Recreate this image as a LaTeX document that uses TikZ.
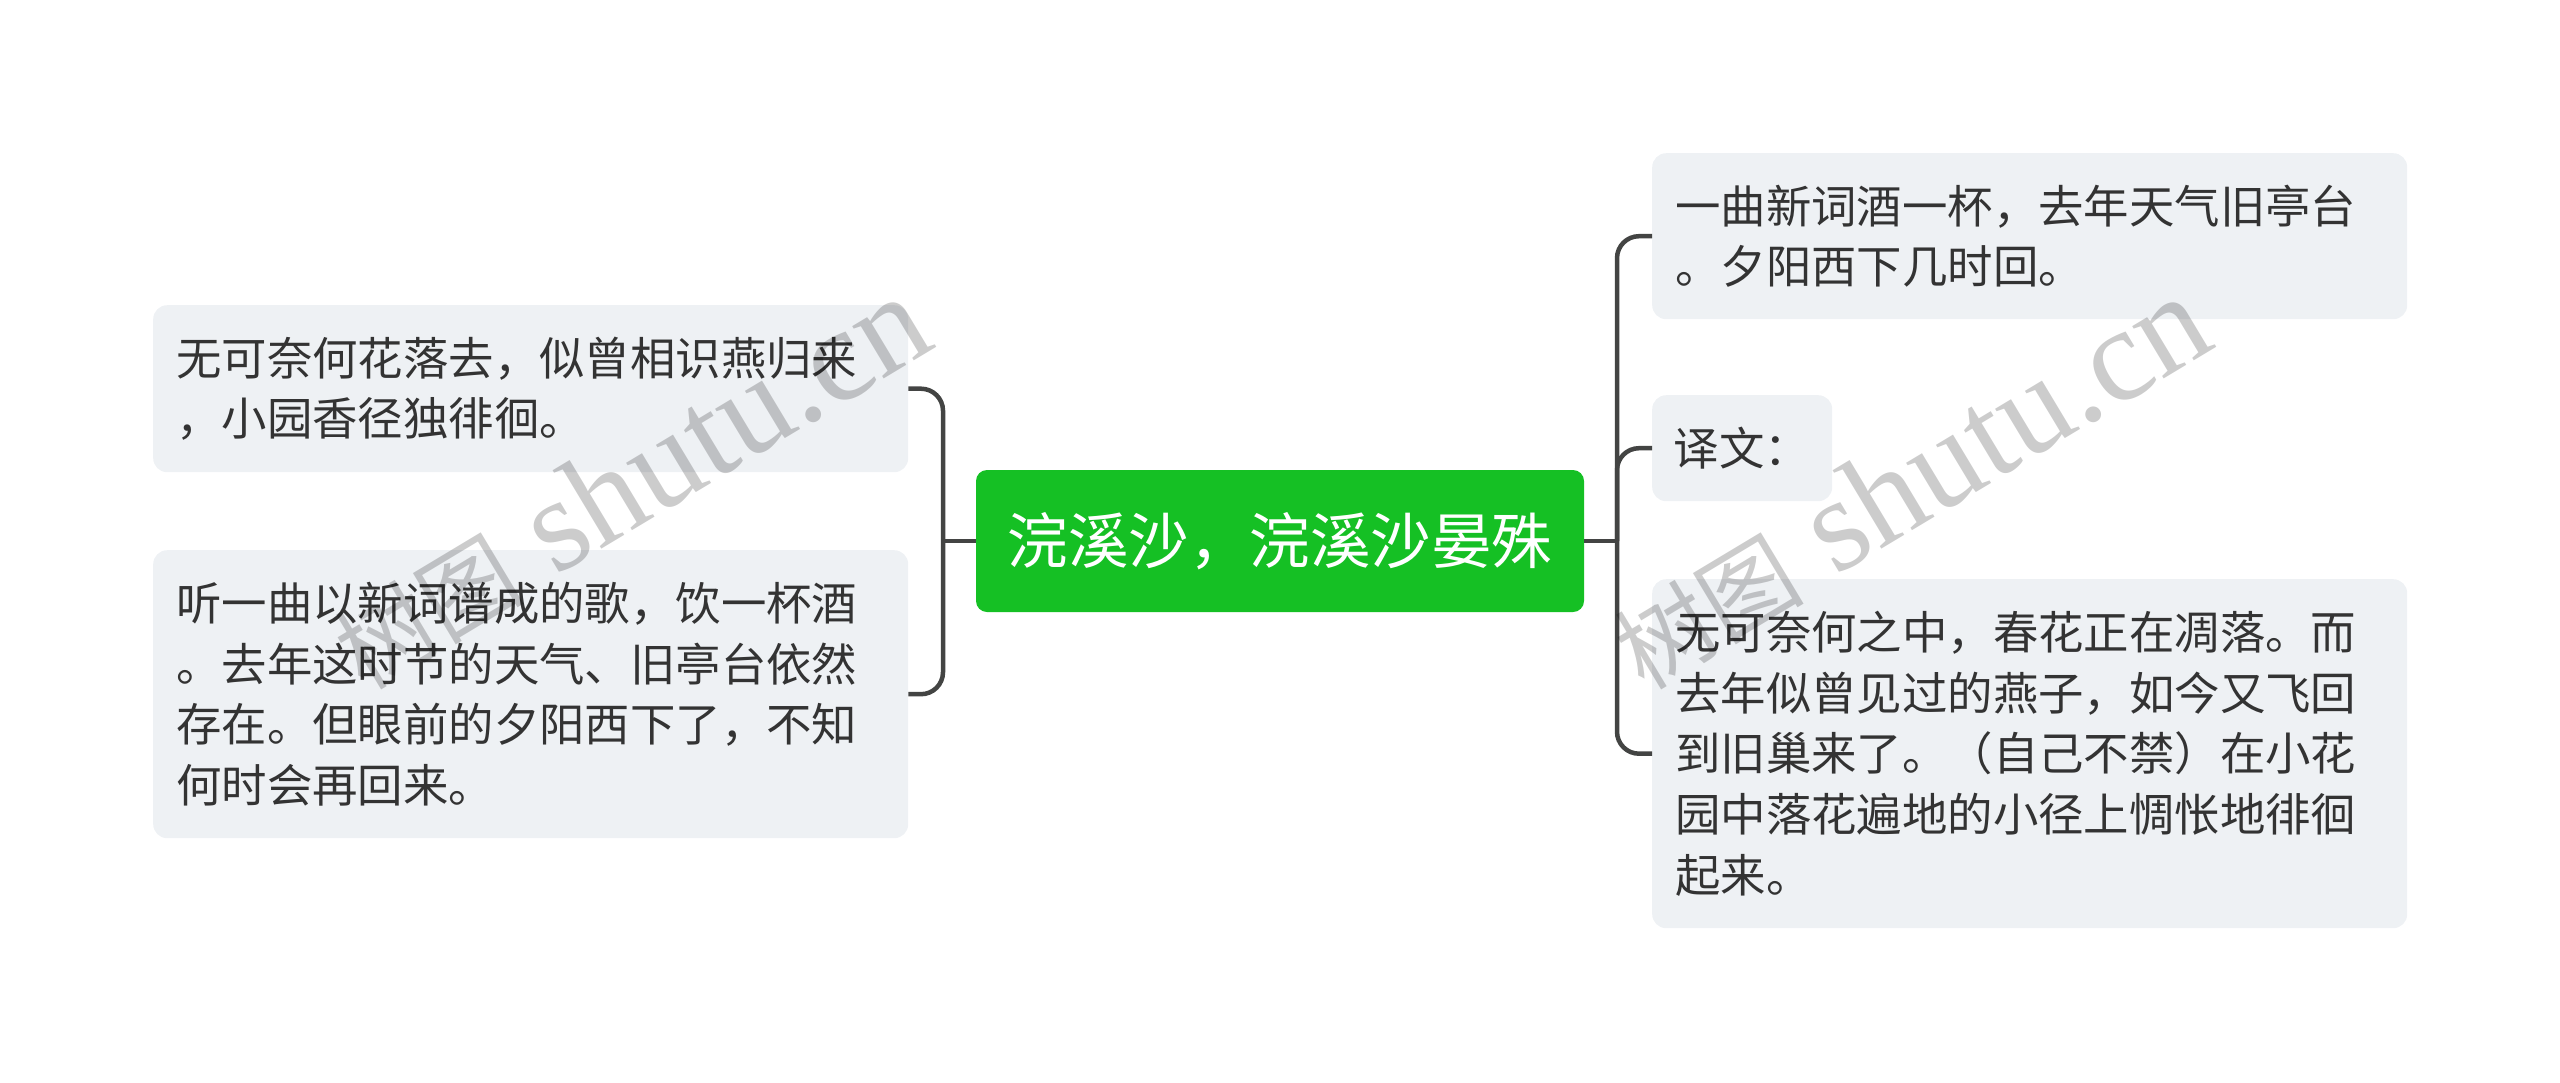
\documentclass[tikz,border=0pt]{standalone}
\usepackage{fontspec}
\newfontfamily\cjk{Noto Sans CJK SC}
\newfontfamily\wmfont{Liberation Serif}
\definecolor{boxfill}{HTML}{EEF1F4}
\definecolor{txt}{HTML}{333333}
\definecolor{rootgreen}{HTML}{15C024}
\definecolor{conn}{HTML}{434443}
\begin{document}
\begin{tikzpicture}[x=1pt,y=-1pt,
  leaf/.style={rectangle, rounded corners=14pt, fill=boxfill, anchor=north west,
    inner xsep=23pt, inner ysep=0pt, align=left, text=txt,
    font=\cjk\fontsize{45.4}{60.6}\selectfont},
  rootbox/.style={rectangle, rounded corners=11pt, fill=rootgreen, text=white,
    inner sep=0pt, font=\cjk\fontsize{60.5}{70}\selectfont},
  link/.style={draw=conn, line width=4.5pt, rounded corners=22pt},
  wm/.style={text=black, text opacity=0.2, font=\wmfont\fontsize{133}{140}\selectfont,
    inner sep=0pt, anchor=base west, rotate=31}]
\useasboundingbox (0,0) rectangle (2560,1082);
% nodes
\node[rootbox, minimum width=608pt, minimum height=142pt] (c) at (1280,541) {浣溪沙，浣溪沙晏殊};
\node[leaf, text width=709pt, minimum height=167pt] (l1) at (153,305)
  {无可奈何花落去，似曾相识燕归来\\，小园香径独徘徊。};
\node[leaf, text width=709pt, minimum height=288pt] (l2) at (153,550)
  {听一曲以新词谱成的歌，饮一杯酒\\。去年这时节的天气、旧亭台依然\\存在。但眼前的夕阳西下了，不知\\何时会再回来。};
\node[leaf, text width=709pt, minimum height=166pt] (rA) at (1652,153)
  {一曲新词酒一杯，去年天气旧亭台\\。夕阳西下几时回。};
\node[leaf, text width=137pt, inner xsep=21.5pt, minimum height=106pt] (rB) at (1652,395)
  {译文：};
\node[leaf, text width=709pt, minimum height=349pt] (rC) at (1652,579)
  {无可奈何之中，春花正在凋落。而\\去年似曾见过的燕子，如今又飞回\\到旧巢来了。（自己不禁）在小花\\园中落花遍地的小径上惆怅地徘徊\\起来。};
% connectors
\coordinate (lj) at (943,541);
\coordinate (rj) at (1617,541);
\draw[link] (l1.east) -| (lj) |- (l2.east);
\draw[link] (c.west) -- (lj);
\draw[link] (rA.west) -| (rj) |- (rC.west);
\draw[link] (rj) |- (rB.west);
\draw[link] (c.east) -- (rj);
% watermarks
\node[wm] (w1) at (364,692) {{\cjk\fontsize{95}{100}\selectfont 树图} shutu.cn};
\node[wm] (w2) at (1644,692) {{\cjk\fontsize{95}{100}\selectfont 树图} shutu.cn};
\end{tikzpicture}
\end{document}
